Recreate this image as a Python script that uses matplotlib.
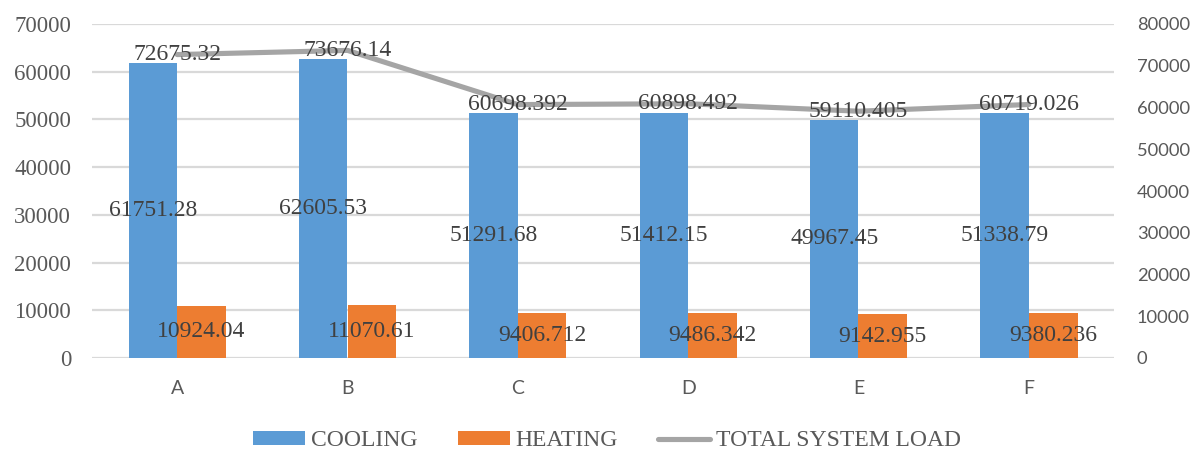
import matplotlib
matplotlib.use("Agg")
import matplotlib.pyplot as plt
import numpy as np
from matplotlib.patches import Patch
from matplotlib.lines import Line2D

categories = ["A", "B", "C", "D", "E", "F"]
cooling = [61751.28, 62605.53, 51291.68, 51412.15, 49967.45, 51338.79]
heating = [10924.04, 11070.61, 9406.712, 9486.342, 9142.955, 9380.236]
total_load = [72675.32, 73676.14, 60698.392, 60898.492, 59110.405, 60719.026]
cooling_labels = ["61751.28", "62605.53", "51291.68", "51412.15", "49967.45", "51338.79"]
heating_labels = ["10924.04", "11070.61", "9406.712", "9486.342", "9142.955", "9380.236"]
total_labels = ["72675.32", "73676.14", "60698.392", "60898.492", "59110.405", "60719.026"]
left_ticks = [0, 10000, 20000, 30000, 40000, 50000, 60000, 70000]
right_ticks = [0, 10000, 20000, 30000, 40000, 50000, 60000, 70000, 80000]

BLUE = "#5B9BD5"
ORANGE = "#ED7D31"
GRAY = "#A5A5A5"
GRID = "#D9D9D9"
TICK_C = "#595959"
LABEL_C = "#404040"
SERIF = ["Liberation Serif", "DejaVu Serif"]
SANS = ["Lato", "DejaVu Sans"]

fig = plt.figure(figsize=(11.99, 4.5), dpi=100)
ax = fig.add_axes([92 / 1199, 1 - 358 / 450, (1114 - 92) / 1199, (358 - 24) / 450])
ax2 = ax.twinx()

x = np.arange(len(categories))
w = 1 / 3.5
ax.bar(x - w / 2, cooling, width=w, color=BLUE, zorder=2)
ax.bar(x + w / 2, heating, width=w, color=ORANGE, zorder=2)
ax2.plot(x, total_load, color=GRAY, linewidth=3.7, solid_capstyle="round",
         solid_joinstyle="round", zorder=3)

ax.set_xlim(-0.5, len(categories) - 0.5)
ax.set_ylim(0, 70000)
ax2.set_ylim(0, 80000)
ax.set_yticks(left_ticks)
ax2.set_yticks(right_ticks)
ax.set_yticklabels([str(t) for t in left_ticks], fontfamily=SERIF, fontsize=16.5, color=TICK_C)
ax2.set_yticklabels([str(t) for t in right_ticks], fontfamily=SANS, fontsize=13.2, color=TICK_C)
ax.set_xticks(x)
ax.set_xticklabels(categories, fontfamily=SANS, fontsize=14, color=TICK_C)
ax.tick_params(axis="y", length=0, pad=15)
ax2.tick_params(axis="y", length=0, pad=16.5)
ax.tick_params(axis="x", length=0, pad=16)

for a in (ax, ax2):
    for s in a.spines.values():
        s.set_visible(False)
ax.yaxis.grid(True, color=GRID, linewidth=1.6, zorder=0)
ax.set_axisbelow(True)

for i in range(len(categories)):
    ax2.text(x[i] - w / 2, cooling[i] / 2, cooling_labels[i], transform=ax.transData,
             ha="center", va="center", fontfamily=SERIF, fontsize=17, color=LABEL_C, zorder=5)
    ax2.text(x[i] + w / 2, heating[i] / 2, heating_labels[i], transform=ax.transData,
             ha="center", va="center", fontfamily=SERIF, fontsize=17, color=LABEL_C, zorder=5)
    ax2.text(x[i], total_load[i], total_labels[i],
             ha="center", va="center", fontfamily=SERIF, fontsize=17, color=LABEL_C, zorder=5)

handles = [Patch(facecolor=BLUE), Patch(facecolor=ORANGE),
           Line2D([0], [0], color=GRAY, linewidth=3.7, solid_capstyle="round")]
fig.legend(handles, ["COOLING", "HEATING", "TOTAL SYSTEM LOAD"], ncol=3,
           loc="center", bbox_to_anchor=(607 / 1199, 1 - 441 / 450), frameon=False,
           prop={"family": SERIF, "size": 17}, labelcolor=TICK_C,
           handlelength=2.2, handleheight=0.55, handletextpad=0.25, columnspacing=1.7)

fig.savefig("out.png", dpi=100)
